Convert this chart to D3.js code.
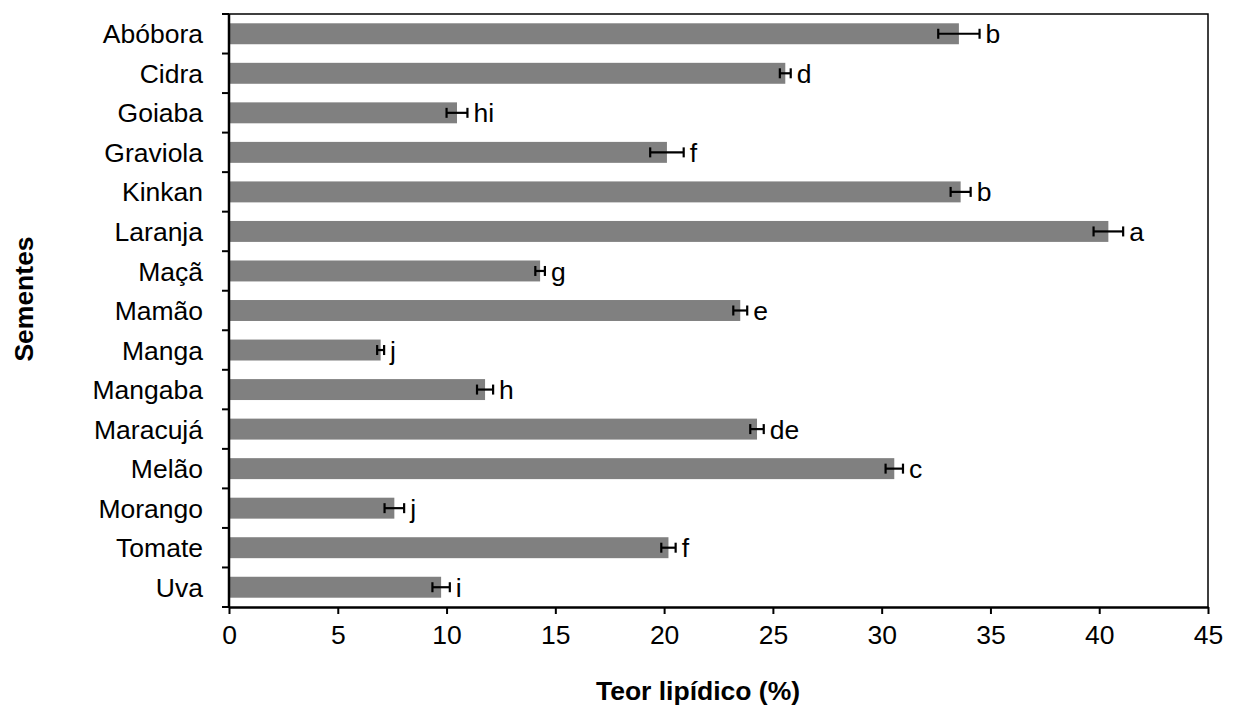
<!DOCTYPE html>
<html>
<head>
<meta charset="utf-8">
<script src="https://cdn.jsdelivr.net/npm/d3@7"></script>
<style>
  body { margin: 0; background: #fff; }
  svg { font-family: Arial, "Liberation Sans", sans-serif; }
</style>
</head>
<body>
<div id="chart"></div>
<script>
const seeds = ['Abóbora', 'Cidra', 'Goiaba', 'Graviola', 'Kinkan', 'Laranja', 'Maçã', 'Mamão',
  'Manga', 'Mangaba', 'Maracujá', 'Melão', 'Morango', 'Tomate', 'Uva'];
const lipid = [33.55, 25.57, 10.48, 20.13, 33.63, 40.42, 14.3, 23.5, 6.97, 11.77, 24.27, 30.58, 7.6, 20.2, 9.75];
const stdErr = [0.95, 0.25, 0.48, 0.77, 0.46, 0.68, 0.22, 0.32, 0.16, 0.37, 0.31, 0.4, 0.45, 0.33, 0.4];
const letters = ['b', 'd', 'hi', 'f', 'b', 'a', 'g', 'e', 'j', 'h', 'de', 'c', 'j', 'f', 'i'];
const xTicks = [0, 5, 10, 15, 20, 25, 30, 35, 40, 45];

const width = 1237;
const height = 709;
const margin = { top: 14, right: 29, bottom: 102, left: 229 };
const fontSize = '26.5px';

const data = seeds.map((s, i) => ({ seed: s, value: lipid[i], err: stdErr[i], letter: letters[i] }));

const svg = d3.select('#chart')
  .append('svg')
  .attr('width', width)
  .attr('height', height);

// escalas
const x = d3.scaleLinear()
  .domain([0, 45])
  .range([margin.left, width - margin.right]);

const y = d3.scaleBand()
  .domain(seeds)
  .range([margin.top, height - margin.bottom])
  .paddingInner(0.47)
  .paddingOuter(0.235);

// barras
svg.append('g')
  .selectAll('rect')
  .data(data)
  .join('rect')
  .attr('x', x(0))
  .attr('y', d => y(d.seed))
  .attr('width', d => x(d.value) - x(0))
  .attr('height', y.bandwidth())
  .attr('fill', '#808080');

// barras de erro
const errG = svg.append('g')
  .attr('stroke', '#000')
  .attr('stroke-width', 2.2);

errG.selectAll('line.h')
  .data(data)
  .join('line')
  .attr('class', 'h')
  .attr('x1', d => x(d.value - d.err))
  .attr('x2', d => x(d.value + d.err))
  .attr('y1', d => y(d.seed) + y.bandwidth() / 2)
  .attr('y2', d => y(d.seed) + y.bandwidth() / 2);

['lo', 'hi'].forEach(side => {
  errG.selectAll('line.' + side)
    .data(data)
    .join('line')
    .attr('class', side)
    .attr('x1', d => x(side === 'lo' ? d.value - d.err : d.value + d.err))
    .attr('x2', d => x(side === 'lo' ? d.value - d.err : d.value + d.err))
    .attr('y1', d => y(d.seed) + y.bandwidth() / 2 - 5)
    .attr('y2', d => y(d.seed) + y.bandwidth() / 2 + 5);
});

// letras
svg.append('g')
  .selectAll('text')
  .data(data)
  .join('text')
  .attr('x', d => x(d.value + d.err) + 6)
  .attr('y', d => y(d.seed) + y.bandwidth() / 2)
  .attr('dy', '0.36em')
  .attr('font-size', fontSize)
  .text(d => d.letter);

// moldura (topo e direita)
svg.append('path')
  .attr('d', `M${x(0)},${margin.top}H${x(45)}V${height - margin.bottom}`)
  .attr('fill', 'none')
  .attr('stroke', '#000')
  .attr('stroke-width', 1.5);

// eixo horizontal
svg.append('g')
  .attr('transform', `translate(0, ${height - margin.bottom})`)
  .call(d3.axisBottom(x).tickValues(xTicks).tickSize(7).tickSizeOuter(0).tickPadding(11))
  .call(g => g.select('.domain').attr('stroke-width', 2.5))
  .call(g => g.selectAll('.tick line').attr('stroke-width', 2))
  .call(g => g.selectAll('.tick text').attr('font-size', fontSize).attr('font-family', 'Arial, "Liberation Sans", sans-serif').attr('fill', '#000'));

// eixo vertical
const yAxis = svg.append('g')
  .attr('transform', `translate(${margin.left}, 0)`);

yAxis.append('line')
  .attr('y1', margin.top)
  .attr('y2', height - margin.bottom)
  .attr('stroke', '#000')
  .attr('stroke-width', 2.5);

const boundaries = d3.range(seeds.length + 1).map(i => margin.top + i * (height - margin.bottom - margin.top) / seeds.length);
yAxis.selectAll('line.tk')
  .data(boundaries)
  .join('line')
  .attr('class', 'tk')
  .attr('x1', -7)
  .attr('x2', 0)
  .attr('y1', d => d)
  .attr('y2', d => d)
  .attr('stroke', '#000')
  .attr('stroke-width', 2);

yAxis.selectAll('text')
  .data(seeds)
  .join('text')
  .attr('x', -26)
  .attr('y', d => y(d) + y.bandwidth() / 2)
  .attr('dy', '0.36em')
  .attr('text-anchor', 'end')
  .attr('font-size', fontSize)
  .text(d => d);

// títulos dos eixos
svg.append('text')
  .attr('x', 698)
  .attr('y', 700)
  .attr('text-anchor', 'middle')
  .attr('font-size', fontSize)
  .attr('font-weight', 'bold')
  .text('Teor lipídico (%)');

svg.append('text')
  .attr('transform', 'translate(33, 299) rotate(-90)')
  .attr('text-anchor', 'middle')
  .attr('font-size', fontSize)
  .attr('font-weight', 'bold')
  .text('Sementes');
</script>
</body>
</html>
